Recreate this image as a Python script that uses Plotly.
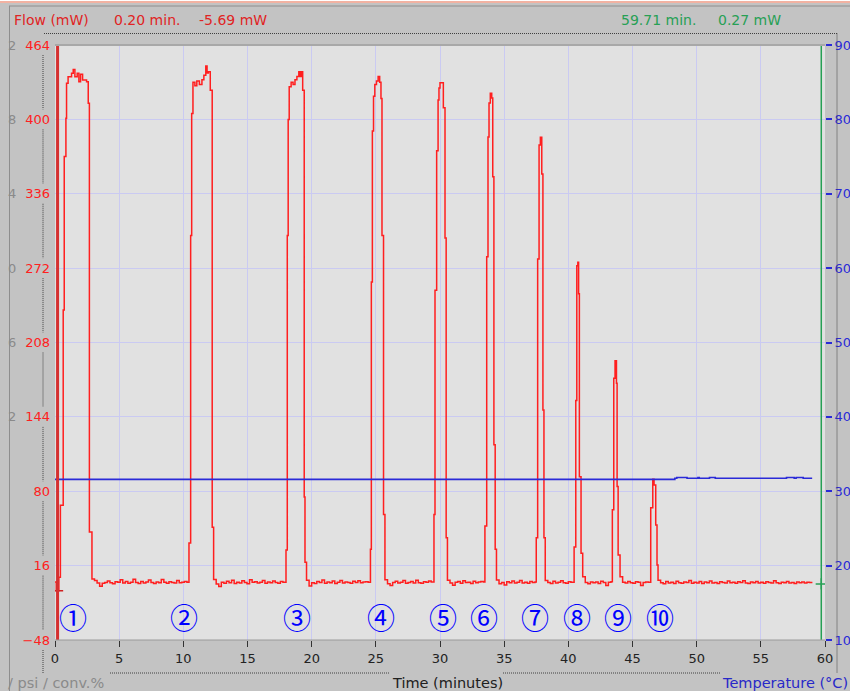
import plotly.graph_objects as go

W, H = 850, 691
ML, MR, MT, MB = 55, 25, 45, 51
PW, PH = W - ML - MR, H - MT - MB

# ---------------- data ----------------
# Flow (mW) step points: time (min) at which the trace jumps to the value
start_t = [0.00, 0.10, 0.30, 0.42]
start_v = [2.0, -5.7, 6.0, 68.0]
p1_t = [0.64, 0.72, 0.85, 0.90, 1.02, 1.29, 1.42, 1.55, 1.73, 1.86, 1.99, 2.15, 2.46, 2.59, 2.68]
p1_v = [236, 368, 401, 431, 436.7, 439.7, 443, 436.7, 439.7, 432.4, 438.8, 433.9, 432.4, 413.8, 45]
p2_t = [10.44, 10.57, 10.65, 10.75, 10.90, 11.05, 11.25, 11.45, 11.60, 11.75, 11.85, 11.95, 12.10, 12.25]
p2_v = [35.5, 300, 405, 432, 429, 433, 430, 434, 438, 446, 440, 441, 425, 49]
p3_t = [18.00, 18.10, 18.17, 18.25, 18.40, 18.55, 18.70, 18.85, 19.00, 19.10, 19.20, 19.30, 19.42, 19.48]
p3_v = [29.5, 300, 400, 428, 432, 430, 434, 437, 441, 437, 441, 425, 75, 19]
p4_t = [24.58, 24.65, 24.73, 24.82, 24.92, 25.05, 25.18, 25.30, 25.40, 25.48, 25.60]
p4_v = [30, 260, 390, 420, 430, 433, 437, 432, 418, 300, 60]
p5_t = [29.53, 29.61, 29.74, 29.85, 29.92, 30.00, 30.26, 30.39, 30.48]
p5_v = [60, 253, 373, 416.7, 427, 431.6, 410, 298, 40]
p6_t = [33.50, 33.64, 33.74, 33.82, 33.92, 34.03, 34.11, 34.20, 34.30]
p6_v = [50, 281.8, 384.9, 414, 422.5, 418.4, 350.7, 120, 30]
p7_t = [37.50, 37.61, 37.72, 37.82, 37.93, 38.02, 38.10]
p7_v = [40, 279.9, 378, 384.6, 353, 150, 40]
p8_t = [40.45, 40.58, 40.66, 40.74, 40.80, 40.86, 40.99]
p8_v = [32, 158, 274, 277, 250, 92.5, 26.6]
p9_t = [43.43, 43.54, 43.64, 43.75, 43.80, 43.88]
p9_v = [64, 177.2, 192.4, 172.9, 84, 25.2]
p10_t = [46.42, 46.58, 46.68, 46.81, 46.91]
p10_v = [65.9, 90.3, 85.4, 51, 16.5]

# Baseline segments between peaks: values every 0.2 min
BASE_STEP = 0.2
base_starts = [2.88, 12.36, 19.60, 25.71, 30.58, 34.40, 38.20, 41.12, 44.03, 46.99]
base_ends = [10.44, 18.00, 24.58, 29.53, 33.50, 37.50, 40.45, 43.43, 46.42, 59.02]
baseA = [4.5, 3.2, 1.0, -1.8, 0.8, 1.5, 2.8, 1.2, 0.4, 2.1, 1.6, 3.9, 1.0, 2.3, 0.9, 1.8, 4.2, 1.5, 0.6,
         2.4, 1.1, 1.9, 3.6, 1.4, 0.7, 2.0, 1.3, 4.0, 1.6, 0.8, 2.2, 1.5, 1.0, 3.3, 1.2, 1.8, 2.4, 1.7]
baseB = [4.0, 0.2, -2.0, 1.6, 0.9, 2.5, 1.2, 3.4, 0.6, 1.8, 1.1, 2.9, 1.4, 0.5, 3.8, 1.6, 2.2, 1.0, 1.7,
         3.1, 0.8, 2.0, 1.3, 2.7, 1.5, 0.9, 2.3, 1.8]
baseC = [3.5, -1.5, 1.2, 0.6, 2.4, 1.5, 3.6, 0.9, 1.9, 1.2, 2.8, 0.7, 1.6, 3.3, 1.1, 2.0, 1.4, 0.8, 2.6,
         1.5, 3.0, 1.2, 1.9, 2.2, 1.6]
baseD = [3.8, 0.5, -1.2, 1.4, 2.6, 1.0, 1.8, 3.2, 0.9, 1.5, 2.4, 1.1, 3.5, 1.3, 0.8, 2.1, 1.6, 2.8, 1.9]
baseE = [3.4, 1.0, -0.8, 1.6, 2.3, 0.9, 3.0, 1.4, 1.8, 0.7, 2.6, 1.2, 1.9, 2.4, 2.0]
baseF = [3.6, 0.4, 1.5, -0.6, 2.2, 1.3, 2.8, 1.0, 1.7, 3.2, 1.1, 1.6, 0.8, 2.3, 1.5, 2.0]
baseG = [3.2, 1.4, 0.6, 2.5, 1.1, 1.8, 3.0, 1.2, 0.9, 2.2, 1.7]
baseH = [6.5, 1.5, 0.3, 2.0, 1.2, 1.9, 0.7, 2.6, 1.4, -1.0, 1.6, 2.1]
baseI = [6.5, 1.8, 1.0, 2.4, 1.3, 0.8, 2.2, 1.6, -1.2, 1.4, 2.0, 1.7]
baseJ = [3.5, 1.2, 0.5, 2.3, 1.0, 1.8, 0.6, 2.6, 1.3, 0.9, 2.0, 1.4, 3.1, 0.8, 1.7, 1.1, 2.4, 0.7, 1.9,
         1.3, 2.8, 1.0, 1.5, 0.6, 2.2, 1.4, 1.0, 2.7, 1.2, 1.8, 0.9, 2.1, 1.5, 3.0, 1.1, 0.7, 1.9, 1.3,
         2.4, 1.0, 1.6, 0.8, 2.2, 1.4, 1.1, 2.9, 1.3, 0.6, 1.8, 1.2, 2.3, 1.0, 1.5, 0.7, 2.0, 1.3, 1.9,
         1.1, 1.6, 1.4, 1.4]

# Temperature (°C) step points
temp_t = [0.00, 48.30, 48.45, 49.25, 50.10, 50.20, 51.00, 51.45, 57.00, 57.60, 57.75, 58.30, 59.00]
temp_v = [31.6, 31.75, 31.85, 31.75, 31.85, 31.75, 31.85, 31.75, 31.85, 31.75, 31.85, 31.75, 31.75]

# Axis ticks
time_ticks = list(range(0, 61, 5))
flow_ticks = [-48, 16, 80, 144, 208, 272, 336, 400, 464]
temp_ticks = [10, 20, 30, 40, 50, 60, 70, 80, 90]
psi_tick_tails = ["2", "8", "4", "0", "6", "2"]   # clipped labels of the hidden psi axis (464 .. 144)

# Peak numbers
peak_labels = ["①", "②", "③", "④", "⑤", "⑥", "⑦", "⑧", "⑨", "⑩"]
peak_label_t = [1.39, 10.04, 18.83, 25.38, 30.26, 33.45, 37.40, 40.65, 43.85, 47.15]
PEAK_LABEL_Y = -28

# Cursors (time, flow)
cursor1 = (0.20, -5.69)
cursor2 = (59.71, 0.27)

# ---------------- build series ----------------
pts = []
for tt, vv in [(start_t, start_v), (p1_t, p1_v), (p2_t, p2_v), (p3_t, p3_v), (p4_t, p4_v),
               (p5_t, p5_v), (p6_t, p6_v), (p7_t, p7_v), (p8_t, p8_v), (p9_t, p9_v), (p10_t, p10_v)]:
    pts += list(zip(tt, vv))
for s, e, vals in zip(base_starts, base_ends,
                      [baseA, baseB, baseC, baseD, baseE, baseF, baseG, baseH, baseI, baseJ]):
    for k, v in enumerate(vals):
        t = round(s + k * BASE_STEP, 3)
        if t < e:
            pts.append((t, v))
pts.append((59.02, 1.4))
pts.sort()
flow_t = [p[0] for p in pts]
flow_v = [p[1] for p in pts]

FONT = "DejaVu Sans"
RED = "#ff1f1f"
BLUE = "#2a2ad8"
GREEN = "#27a055"
GRID = "#cacaf2"


def PX(px):
    return (px - ML) / PW


def PY(py):
    return (H - MB - py) / PH


fig = go.Figure()
fig.add_trace(go.Scatter(x=flow_t, y=flow_v, mode="lines", yaxis="y",
                         line=dict(color=RED, width=1.5, shape="hv"), showlegend=False))
fig.add_trace(go.Scatter(x=temp_t, y=temp_v, mode="lines", yaxis="y2",
                         line=dict(color=BLUE, width=1.6, shape="hv"), showlegend=False))
fig.add_trace(go.Scatter(x=[cursor1[0]], y=[cursor1[1]], mode="markers", yaxis="y",
                         marker=dict(symbol="cross-thin", size=8, line=dict(color="#d02020", width=1.5)),
                         showlegend=False))
fig.add_trace(go.Scatter(x=[cursor2[0]], y=[cursor2[1]], mode="markers", yaxis="y",
                         marker=dict(symbol="cross-thin", size=8, line=dict(color=GREEN, width=1.5)),
                         showlegend=False))

shapes = []
# cursors
shapes.append(dict(type="line", xref="x", yref="paper", x0=cursor1[0], x1=cursor1[0], y0=0, y1=1,
                   line=dict(color="#d53030", width=3)))
shapes.append(dict(type="line", xref="x", yref="paper", x0=cursor2[0], x1=cursor2[0], y0=0, y1=1,
                   line=dict(color=GREEN, width=1.5)))
# top border bands
shapes.append(dict(type="rect", xref="paper", yref="paper", x0=PX(0), x1=PX(W), y0=PY(3), y1=PY(0),
                   line=dict(width=0), fillcolor="#f2b2a2"))
shapes.append(dict(type="rect", xref="paper", yref="paper", x0=PX(0), x1=PX(W), y0=PY(1), y1=PY(0),
                   line=dict(width=0), fillcolor="#ffffff"))
shapes.append(dict(type="line", xref="paper", yref="paper", x0=PX(9), x1=PX(W), y0=PY(6), y1=PY(6),
                   line=dict(color="#8e8e8e", width=1)))
shapes.append(dict(type="line", xref="paper", yref="paper", x0=PX(9.5), x1=PX(9.5), y0=PY(6), y1=PY(H),
                   line=dict(color="#8e8e8e", width=1)))
# plot frame
shapes.append(dict(type="line", xref="paper", yref="paper", x0=0, x1=1, y0=1, y1=1,
                   line=dict(color="#a8a8a8", width=2)))
shapes.append(dict(type="line", xref="paper", yref="paper", x0=0, x1=1, y0=0, y1=0,
                   line=dict(color="#9a9a9a", width=1)))
# dotted guide lines
DOT = dict(color="#404040", width=1, dash="1px,1px")
for (x0, y0, x1, y1) in [(44, 33.5, 837, 33.5), (837, 33.5, 837, 673),
                         (110, 673, 390, 673), (503, 673, 720, 673), (43, 650, 43, 673)]:
    shapes.append(dict(type="line", xref="paper", yref="paper", x0=PX(x0), x1=PX(x1),
                       y0=PY(y0), y1=PY(y1), line=DOT))
label_py = [MT + (flow_ticks[-1] - v) / (flow_ticks[-1] - flow_ticks[0]) * PH for v in flow_ticks[::-1]]
for a, b in zip(label_py[:-1], label_py[1:]):
    shapes.append(dict(type="line", xref="paper", yref="paper", x0=PX(43), x1=PX(43),
                       y0=PY(a + 10), y1=PY(b - 10), line=DOT))

ann = []


def txt(text, px, py, color, size=14, anchor="left"):
    ann.append(dict(text=text, xref="paper", yref="paper", x=PX(px), y=PY(py), xanchor=anchor,
                    yanchor="middle", showarrow=False, font=dict(family=FONT, size=size, color=color)))


txt("Flow (mW)", 12, 20, "#e02424", 14)
txt(f"{cursor1[0]:.2f} min.", 112, 20, "#e02424", 14)
txt(f"{cursor1[1]:.2f} mW", 197, 20, "#e02424", 14)
txt(f"{cursor2[0]:.2f} min.", 619, 20, GREEN, 14)
txt(f"{cursor2[1]:.2f} mW", 716, 20, GREEN, 14)
txt("/ psi / conv.%", 6, 683, "#8a8a8a", 14.5)
txt("Time (minutes)", 390, 683, "#202020", 14.5)
txt("Temperature (°C)", 720, 683, "#2828c8", 14.5)
for lab, py in zip(psi_tick_tails, label_py[:len(psi_tick_tails)]):
    txt(lab, 12, py, "#8a8a8a", 13, anchor="center")

for lab, t in zip(peak_labels, peak_label_t):
    ann.append(dict(text=lab, xref="x", yref="y", x=t, y=PEAK_LABEL_Y, showarrow=False,
                    xanchor="center", yanchor="middle",
                    font=dict(family="Noto Sans CJK JP", size=28, color="#0000ff")))

fig.update_layout(
    template="none",
    width=W, height=H, autosize=False,
    margin=dict(l=ML, r=MR, t=MT, b=MB, pad=0),
    paper_bgcolor="#c3c3c3", plot_bgcolor="#e1e1e1",
    showlegend=False,
    xaxis=dict(range=[0, 60], tickvals=time_ticks, ticks="outside", ticklen=6, tickwidth=1,
               tickcolor="#333333", showgrid=True, gridcolor=GRID, gridwidth=1, zeroline=False,
               showline=False, automargin=False,
               tickfont=dict(family=FONT, size=13, color="#222222")),
    yaxis=dict(range=[flow_ticks[0], flow_ticks[-1]], tickvals=flow_ticks, ticks="",
               showgrid=True, gridcolor=GRID, gridwidth=1, zeroline=False, showline=False,
               automargin=False, ticklabelstandoff=4,
               tickfont=dict(family=FONT, size=13, color="#ff2020")),
    yaxis2=dict(range=[temp_ticks[0], temp_ticks[-1]], tickvals=temp_ticks, overlaying="y",
                side="right", ticks="outside", ticklen=6, tickwidth=1.5, tickcolor=BLUE,
                showgrid=False, zeroline=False, showline=False, automargin=False,
                ticklabelstandoff=0,
                tickfont=dict(family=FONT, size=13, color=BLUE)),
    shapes=shapes,
    annotations=ann,
)

fig.write_html("out.html", config={"displayModeBar": False},
               post_script="document.body.style.margin='0px';document.body.style.overflow='hidden';")
